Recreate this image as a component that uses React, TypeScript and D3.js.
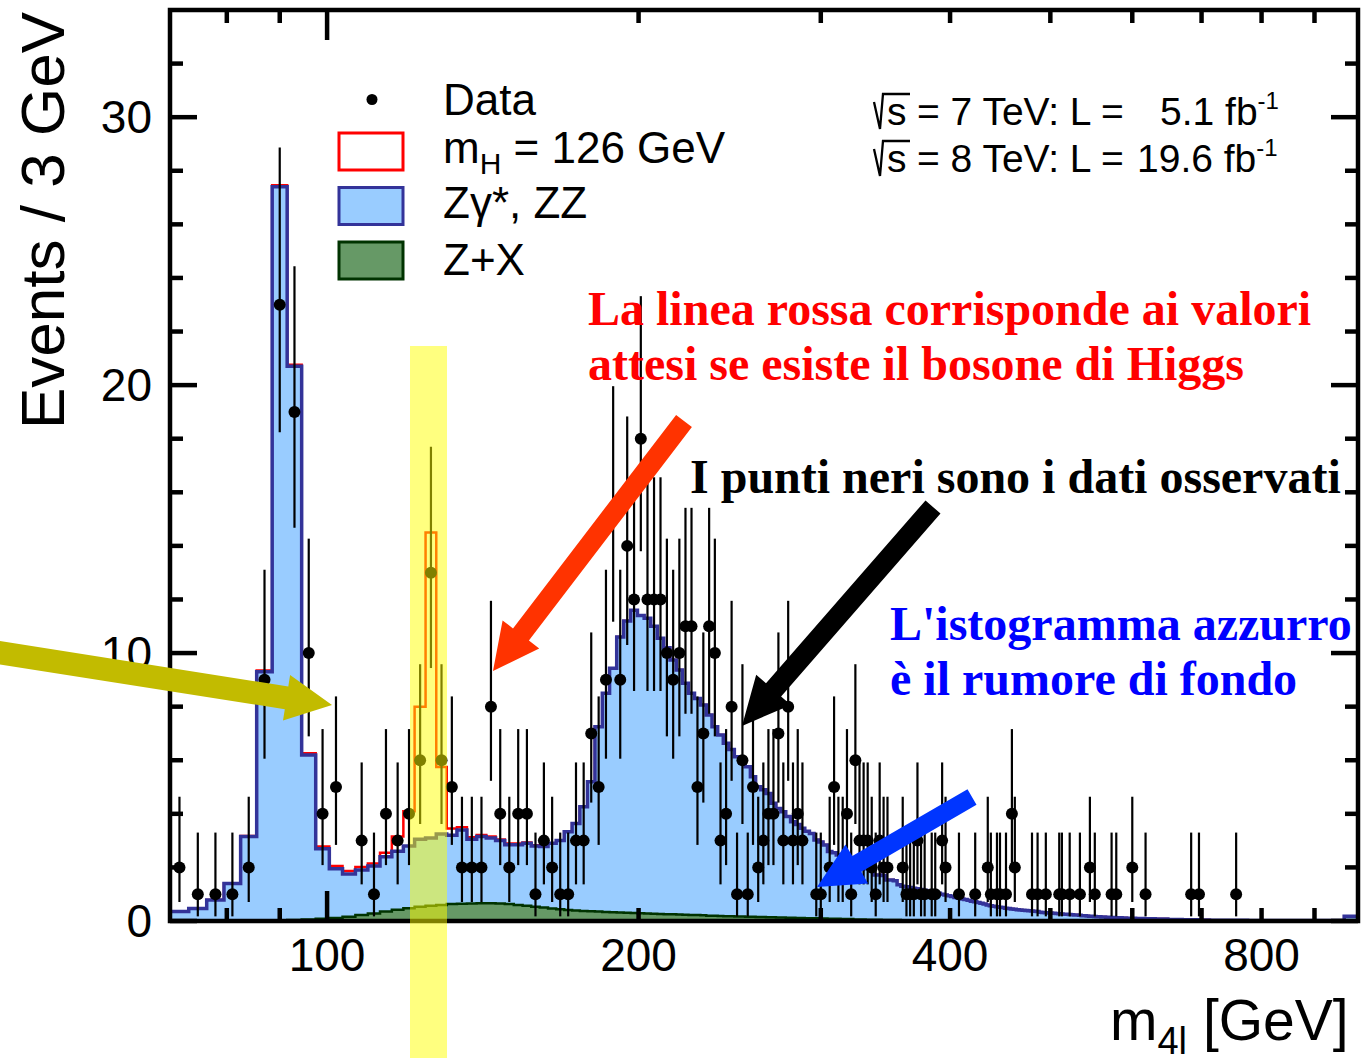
import React from "react";
import * as d3 from "d3";

// ---- binning: 3 GeV bins, log x axis ----
const BIN_START = 70.5;
const BIN_WIDTH = 3;
const N_BINS = 307;
const massDomain = [70.5, 991.5];
const eventsDomain = [0, 34];

// Z gamma*, ZZ stacked on Z+X (top of the light blue histogram), per 3 GeV bin
const bkgTotal = [
  0.35, 0.47, 0.78, 1.4, 3.15, 9.3, 27.4, 20.7, 6.2, 2.7,
  1.95, 1.75, 1.9, 2.05, 2.4, 2.6, 2.8, 3.05, 3.1, 3.25,
  3.2, 3.4, 3.05, 3.15, 3.1, 3.0, 2.85, 2.85, 2.9, 2.8,
  2.78, 2.9, 3.0, 3.33, 3.64, 4.26, 5.2, 7.25, 8.5, 9.43,
  10.6, 11.2, 11.6, 11.4, 11.3, 11.0, 10.55, 10.2, 9.74, 9.37,
  8.87, 8.5, 8.3, 8.06, 7.69, 7.25, 6.94, 6.63, 6.4, 6.13,
  5.9, 5.76, 5.38, 5.01, 4.9, 4.76, 4.39, 4.2, 4.08, 3.9,
  3.7, 3.6, 3.46, 3.35, 3.27, 3.02, 2.95, 2.84, 2.59, 2.55,
  2.46, 2.35, 2.28, 2.15, 2.09, 2.05, 1.97, 1.95, 1.9, 1.72,
  1.72, 1.7, 1.53, 1.53, 1.5, 1.35, 1.3, 1.28, 1.25, 1.22,
  1.2, 1.18, 1.15, 1.12, 1.1, 1.07, 1.04, 1.0, 0.97, 0.94,
  0.91, 0.88, 0.85, 0.82, 0.8, 0.77, 0.74, 0.72, 0.69, 0.66,
  0.63, 0.6, 0.57, 0.55, 0.53, 0.51, 0.5, 0.48, 0.47, 0.45,
  0.44, 0.42, 0.41, 0.4, 0.39, 0.38, 0.37, 0.36, 0.35, 0.33,
  0.32, 0.31, 0.3, 0.3, 0.29, 0.28, 0.27, 0.26, 0.25, 0.25,
  0.24, 0.23, 0.22, 0.22, 0.21, 0.2, 0.2, 0.19, 0.18, 0.18,
  0.17, 0.16, 0.16, 0.15, 0.15, 0.14, 0.14, 0.13, 0.13, 0.12,
  0.12, 0.12, 0.11, 0.11, 0.1, 0.1, 0.1, 0.1, 0.09, 0.09,
  0.09, 0.09, 0.08, 0.08, 0.08, 0.08, 0.08, 0.07, 0.07, 0.07,
  0.07, 0.07, 0.07, 0.06, 0.06, 0.06, 0.06, 0.06, 0.06, 0.06,
  0.05, 0.05, 0.05, 0.05, 0.05, 0.05, 0.05, 0.05, 0.05, 0.04,
  0.04, 0.04, 0.04, 0.04, 0.03, 0.03, 0.03, 0.03, 0.03, 0.03,
  0.03, 0.03, 0.03, 0.03, 0.03, 0.03, 0.03, 0.03, 0.03, 0.03,
  0.03, 0.03, 0.03, 0.03, 0.03, 0.02, 0.02, 0.02, 0.02, 0.02,
  0.02, 0.02, 0.02, 0.02, 0.02, 0.02, 0.02, 0.02, 0.02, 0.02,
  0.02, 0.02, 0.02, 0.02, 0.02, 0.02, 0.02, 0.02, 0.02, 0.02,
  0.02, 0.02, 0.02, 0.02, 0.02, 0.02, 0.02, 0.02, 0.02, 0.02,
  0.02, 0.02, 0.02, 0.02, 0.02, 0.02, 0.02, 0.02, 0.02, 0.02,
  0.02, 0.02, 0.02, 0.02, 0.02, 0.02, 0.02, 0.02, 0.02, 0.02,
  0.02, 0.02, 0.02, 0.02, 0.02, 0.02, 0.02, 0.18, 0.18, 0.18,
  0.18, 0.18, 0.18, 0.18, 0.18, 0.18, 0.18,
];

// Z+X (green), per bin from the first one
const zxEvents = [
  0, 0, 0.01, 0.01, 0.02, 0.02, 0.03, 0.04, 0.06, 0.08,
  0.11, 0.16, 0.22, 0.28, 0.35, 0.42, 0.48, 0.53, 0.57, 0.6,
  0.63, 0.64, 0.65, 0.66, 0.66, 0.65, 0.63, 0.6, 0.57, 0.53,
  0.5, 0.47, 0.44, 0.41, 0.39, 0.37, 0.36, 0.35, 0.34, 0.33,
  0.32, 0.31, 0.3, 0.29, 0.28, 0.27, 0.26, 0.25, 0.25, 0.24,
  0.23, 0.22, 0.22, 0.21, 0.2, 0.2, 0.19, 0.18, 0.18, 0.17,
  0.17, 0.16, 0.16, 0.15, 0.15, 0.14, 0.14, 0.13, 0.13, 0.12,
  0.12, 0.11, 0.11, 0.1, 0.1, 0.1, 0.09, 0.09, 0.08, 0.08,
  0.08, 0.07, 0.07, 0.07, 0.06, 0.06, 0.06, 0.05, 0.05, 0.05,
  0.05, 0.04, 0.04, 0.04, 0.04, 0.04, 0.03, 0.03, 0.03, 0.03,
  0.03, 0.02, 0.02, 0.02, 0.02, 0.02, 0.02, 0.02, 0.02, 0.02,
];

// mH = 126 GeV signal on top of the background (red), per bin
const higgsSignal = [
  0, 0, 0, 0, 0.02, 0.05, 0.06, 0.06, 0.06, 0.08,
  0.1, 0.12, 0.12, 0.1, 0.15, 0.55, 1.3, 4.95, 11.4, 2.5,
  0.25, 0.1, 0.08, 0.06, 0.05, 0.04, 0.04, 0.04, 0.03, 0.03, 0.03,
];

// observed events: bin centre (GeV) and count
const dataMass = [
  72, 75, 78, 81, 84, 87, 90, 93, 96, 99, 102, 108, 111, 114, 117, 120, 123, 126, 129, 132,
  135, 138, 141, 144, 147, 150, 153, 156, 159, 162, 165, 168, 171, 174, 177, 180, 183, 186, 189, 192,
  195, 198, 201, 204, 207, 210, 213, 216, 219, 222, 225, 228, 231, 234, 237, 240, 243, 246, 249, 252,
  255, 258, 261, 264, 267, 270, 273, 276, 279, 282, 285, 288, 297, 300, 306, 309, 312, 315, 318, 321,
  324, 327, 330, 333, 336, 339, 342, 345, 348, 360, 363, 366, 369, 372, 375, 378, 384, 387, 393, 396,
  408, 423, 435, 438, 444, 447, 453, 459, 462, 480, 486, 495, 510, 513, 522, 534, 546, 552, 573, 579,
  600, 618, 684, 696, 756,
];
const dataCounts = [
  2, 1, 1, 1, 2, 9, 23, 19, 10, 4, 5, 3, 1, 4, 3, 4, 6, 13, 6, 5,
  2, 2, 2, 8, 4, 2, 4, 4, 1, 3, 2, 1, 1, 3, 3, 7, 5, 9, 15, 9,
  14, 12, 18, 12, 12, 12, 10, 9, 10, 11, 11, 5, 7, 11, 10, 3, 4, 8, 1, 6,
  1, 5, 2, 3, 4, 4, 7, 3, 8, 3, 4, 3, 1, 1, 2, 5, 2, 2, 4, 1,
  6, 3, 3, 3, 2, 1, 3, 2, 2, 2, 1, 1, 1, 3, 1, 1, 1, 1, 3, 2,
  1, 1, 2, 1, 1, 1, 1, 4, 2, 1, 1, 1, 1, 1, 1, 1, 2, 1, 1, 1,
  2, 1, 1, 1, 1,
];

// 68% central Poisson (Garwood) interval for n observed
const poissonLow = [0, 0.173, 0.708, 1.367, 2.086, 2.84, 3.62, 4.419, 5.232, 6.057, 6.891, 7.734, 8.585, 9.441, 10.3, 11.17, 12.04, 12.92, 13.8, 14.68, 15.57, 16.45, 17.35, 18.24];
const poissonHigh = [1.841, 3.3, 4.638, 5.918, 7.163, 8.382, 9.584, 10.77, 11.95, 13.11, 14.27, 15.42, 16.56, 17.7, 18.83, 19.96, 21.08, 22.2, 23.32, 24.44, 25.55, 26.66, 27.76, 28.87];

const yMajorTicks = [0, 10, 20, 30];
const yMinorTicks = [2, 4, 6, 8, 12, 14, 16, 18, 22, 24, 26, 28, 32];
const xLabelTicks = [100, 200, 400, 800];
const xMajorTicks = [100];
const xMinorTicks = [80, 90, 200, 300, 400, 500, 600, 700, 800, 900];

const W = 1371;
const H = 1061;
const frame = { left: 170, right: 1358, top: 10, bottom: 921 };
const SANS = "'Liberation Sans', Arial, Helvetica, sans-serif";
const SERIF = "'Liberation Serif', 'Times New Roman', serif";

function arrowPath(x1: number, y1: number, x2: number, y2: number, shaft: number, headLen: number, headW: number) {
  const dx = x2 - x1, dy = y2 - y1;
  const L = Math.hypot(dx, dy);
  const ux = dx / L, uy = dy / L;
  const px = -uy, py = ux;
  const bx = x2 - ux * headLen, by = y2 - uy * headLen;
  const pts = [
    [x1 + px * shaft / 2, y1 + py * shaft / 2],
    [bx + px * shaft / 2, by + py * shaft / 2],
    [bx + px * headW / 2, by + py * headW / 2],
    [x2, y2],
    [bx - px * headW / 2, by - py * headW / 2],
    [bx - px * shaft / 2, by - py * shaft / 2],
    [x1 - px * shaft / 2, y1 - py * shaft / 2],
  ];
  return "M" + pts.map((p) => p[0].toFixed(1) + "," + p[1].toFixed(1)).join("L") + "Z";
}

export default function App() {
  const x = d3.scaleLog().domain(massDomain).range([frame.left, frame.right]);
  const y = d3.scaleLinear().domain(eventsDomain).range([frame.bottom, frame.top]);

  const edges = d3.range(N_BINS + 1).map((k) => BIN_START + BIN_WIDTH * k);
  const steps = (vals: number[]) =>
    edges.map((e, k) => ({ m: e, v: vals[Math.min(k, N_BINS - 1)] ?? 0 }));

  const totalWithHiggs = bkgTotal.map((v, k) => v + (higgsSignal[k] ?? 0));

  const area = d3
    .area<{ m: number; v: number }>()
    .x((d) => x(d.m))
    .y0(y(0))
    .y1((d) => y(d.v))
    .curve(d3.curveStepAfter);
  const line = d3
    .line<{ m: number; v: number }>()
    .x((d) => x(d.m))
    .y((d) => y(d.v))
    .curve(d3.curveStepAfter);

  const bkgSteps = steps(bkgTotal);
  const zxSteps = steps(zxEvents);
  const higgsSteps = steps(totalWithHiggs);

  const arrows = [
    { x1: -5, y1: 652, x2: 332, y2: 705, shaft: 23, head: 46, headW: 46, color: "#c2bb00" },
    { x1: 684, y1: 421, x2: 493, y2: 671, shaft: 20, head: 46, headW: 46, color: "#ff3300" },
    { x1: 933, y1: 507, x2: 742, y2: 726, shaft: 20, head: 48, headW: 46, color: "#000000" },
    { x1: 972, y1: 797, x2: 817, y2: 887, shaft: 18, head: 46, headW: 45, color: "#0035ff" },
  ];

  return (
    <svg width={W} height={H} style={{ position: "absolute", left: 0, top: 0, background: "#fff" }}>
      <defs>
        <clipPath id="plotClip">
          <rect x={frame.left} y={frame.top} width={frame.right - frame.left} height={frame.bottom - frame.top} />
        </clipPath>
      </defs>
      <rect x={0} y={0} width={W} height={H} fill="#fff" />

      <g clipPath="url(#plotClip)">
        {/* signal + background outline */}
        <path d={line(higgsSteps) || ""} fill="none" stroke="#ff0000" strokeWidth={2.5} />
        {/* ZZ background */}
        <path d={area(bkgSteps) || ""} fill="#99ccff" />
        <path d={line(bkgSteps) || ""} fill="none" stroke="#333399" strokeWidth={3.5} />
        {/* Z+X */}
        <path d={area(zxSteps) || ""} fill="#669966" />
        <path d={line(zxSteps) || ""} fill="none" stroke="#003300" strokeWidth={2.5} />

        {/* data */}
        {dataMass.map((m, i) => {
          const n = dataCounts[i];
          return (
            <g key={i}>
              <line x1={x(m)} x2={x(m)} y1={y(poissonLow[n])} y2={y(poissonHigh[n])} stroke="#000" strokeWidth={2.2} />
              <circle cx={x(m)} cy={y(n)} r={6} fill="#000" />
            </g>
          );
        })}
      </g>

      {/* frame and ticks */}
      <g stroke="#000" strokeWidth={4.5} fill="none">
        <rect x={frame.left} y={frame.top} width={frame.right - frame.left} height={frame.bottom - frame.top} />
        {yMajorTicks.concat(yMinorTicks).map((t) => {
          const len = yMajorTicks.includes(t) ? 27 : 13;
          return (
            <g key={"y" + t}>
              <line x1={frame.left} x2={frame.left + len} y1={y(t)} y2={y(t)} />
              <line x1={frame.right} x2={frame.right - len} y1={y(t)} y2={y(t)} />
            </g>
          );
        })}
        {xMajorTicks.concat(xMinorTicks).map((t) => {
          const len = xMajorTicks.includes(t) ? 30 : 13;
          return (
            <g key={"x" + t}>
              <line x1={x(t)} x2={x(t)} y1={frame.bottom} y2={frame.bottom - len} />
              <line x1={x(t)} x2={x(t)} y1={frame.top} y2={frame.top + len} />
            </g>
          );
        })}
      </g>

      {/* tick labels */}
      <g fontFamily={SANS} fontSize={46} fill="#000">
        {yMajorTicks.map((t) => (
          <text key={t} x={152} y={y(t) + 16} textAnchor="end">{t}</text>
        ))}
        {xLabelTicks.map((t) => (
          <text key={t} x={x(t)} y={971} textAnchor="middle">{t}</text>
        ))}
      </g>

      {/* axis titles */}
      <text fontFamily={SANS} fontSize={62} transform="translate(64,12) rotate(-90)" textAnchor="end">
        Events / 3 GeV
      </text>
      <text fontFamily={SANS} fontSize={57} x={1110} y={1040}>
        m<tspan fontSize={38} dy={14}>4l</tspan>
        <tspan dy={-14}> [GeV]</tspan>
      </text>

      {/* legend */}
      <g fontFamily={SANS} fontSize={44}>
        <circle cx={372} cy={99.5} r={5.5} fill="#000" />
        <text x={443} y={115}>Data</text>
        <rect x={339} y={133} width={64} height={37} fill="#fff" stroke="#ff0000" strokeWidth={3} />
        <text x={443} y={163}>
          m<tspan fontSize={30} dy={11}>H</tspan>
          <tspan dy={-11}> = 126 GeV</tspan>
        </text>
        <rect x={339} y={187.5} width={64} height={37} fill="#99ccff" stroke="#333399" strokeWidth={3} />
        <text x={443} y={218}>Zγ*, ZZ</text>
        <rect x={339} y={242} width={64} height={37} fill="#669966" stroke="#003300" strokeWidth={3} />
        <text x={443} y={275}>Z+X</text>
      </g>

      {/* luminosity labels */}
      <g fontFamily={SANS} fontSize={39}>
        <path d="M874,102 L880,129 L883,94 L910,94" fill="none" stroke="#000" strokeWidth={2.3} />
        <text x={887} y={125}>s</text>
        <text x={917} y={125}>= 7 TeV: L =</text>
        <text x={1160} y={125}>
          5.1 fb<tspan fontSize={24} dy={-16}>-1</tspan>
        </text>
        <path d="M874,149 L880,176 L883,141 L910,141" fill="none" stroke="#000" strokeWidth={2.3} />
        <text x={887} y={172}>s</text>
        <text x={917} y={172}>= 8 TeV: L =</text>
        <text x={1137} y={172}>
          19.6 fb<tspan fontSize={24} dy={-16}>-1</tspan>
        </text>
      </g>

      {/* annotations */}
      {arrows.map((a, i) => (
        <path key={i} d={arrowPath(a.x1, a.y1, a.x2, a.y2, a.shaft, a.head, a.headW)} fill={a.color} />
      ))}
      <g fontFamily={SERIF} fontWeight="bold" fontSize={48}>
        <text x={588} y={325} fill="#ff0000">La linea rossa corrisponde ai valori</text>
        <text x={588} y={380} fill="#ff0000">attesi se esiste il bosone di Higgs</text>
        <text x={690} y={493} fill="#000">I punti neri sono i dati osservati</text>
        <text x={890} y={640} fill="#0000ff">L'istogramma azzurro</text>
        <text x={890} y={695} fill="#0000ff">è il rumore di fondo</text>
      </g>

      {/* highlight band at 126 GeV */}
      <rect x={410} y={346} width={37} height={712} fill="#ffff00" opacity={0.5} />
    </svg>
  );
}
